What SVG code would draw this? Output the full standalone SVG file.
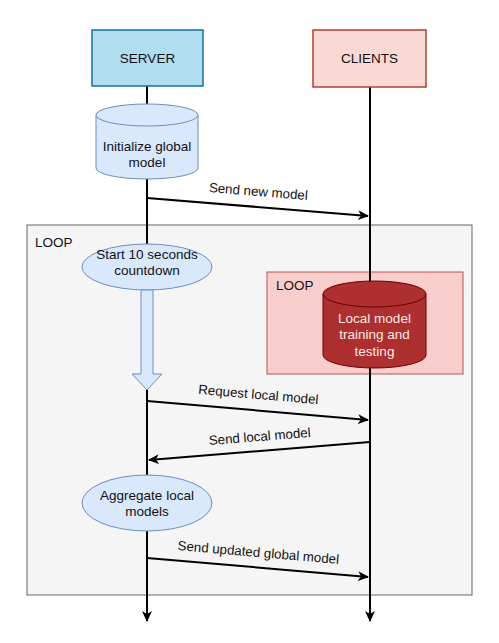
<svg xmlns="http://www.w3.org/2000/svg" width="499" height="643" viewBox="0 0 499 643">
<style>
text{font-family:"Liberation Sans",Arial,sans-serif;font-size:13.5px;fill:#111;text-anchor:middle}
.lbl{font-size:13.3px}
.ll{stroke:#000;stroke-width:2;fill:none}
.msg{stroke:#000;stroke-width:2;fill:none;marker-end:url(#ah)}
.blue{fill:#dae8fc;stroke:#6c8ebf;stroke-width:1}
</style>
<defs>
<marker id="ah" markerWidth="12" markerHeight="10" refX="10" refY="5" orient="auto" markerUnits="userSpaceOnUse">
<path d="M0,0 L11,5 L0,10 L3,5 Z" fill="#000"/>
</marker>
</defs>
<rect width="499" height="643" fill="#fff"/>
<g id="outer-loop">
<rect x="27" y="225" width="445" height="370" fill="#f5f5f5" stroke="#666" stroke-width="1"/>
<text x="35" y="247" style="text-anchor:start">LOOP</text>
</g>
<g id="inner-loop">
<rect x="267" y="272" width="196" height="102" fill="#f8cecc" stroke="#b85450" stroke-width="1"/>
<text x="276" y="290" style="text-anchor:start">LOOP</text>
</g>
<g id="connectors">
<line class="ll" x1="147" y1="86" x2="147" y2="621" marker-end="url(#ah)"/>
<line class="ll" x1="370" y1="87" x2="370" y2="621" marker-end="url(#ah)"/>
<line class="msg" x1="147" y1="198" x2="368" y2="216"/>
<line class="msg" x1="147" y1="401" x2="368" y2="420"/>
<line class="msg" x1="370" y1="442" x2="149" y2="460"/>
<line class="msg" x1="147" y1="558" x2="368" y2="577"/>
<text class="lbl" transform="translate(258,196) rotate(4.6)">Send new model</text>
<text class="lbl" transform="translate(258,399) rotate(4.9)">Request local model</text>
<text class="lbl" transform="translate(260,441) rotate(-4.6)">Send local model</text>
<text class="lbl" transform="translate(258,557) rotate(4.9)">Send updated global model</text>
</g>
<g id="server">
<rect x="92" y="30" width="111" height="56" fill="#b1ddf0" stroke="#10739e" stroke-width="1.5"/>
<text x="147.5" y="63">SERVER</text>
</g>
<g id="clients">
<rect x="313" y="30" width="113" height="57" fill="#fad9d5" stroke="#ae4132" stroke-width="1.5"/>
<text x="369.5" y="63">CLIENTS</text>
</g>
<g id="init-global">
<path class="blue" d="M96,115 A51,11 0 0 1 198,115 V168 A51,11 0 0 1 96,168 Z"/>
<path class="blue" d="M96,115 A51,11 0 0 0 198,115"/>
<text x="147" y="151">Initialize global</text>
<text x="147" y="167">model</text>
</g>
<g id="countdown">
<ellipse class="blue" cx="147" cy="267" rx="65" ry="23"/>
<text x="147" y="259">Start 10 seconds</text>
<text x="147" y="275">countdown</text>
</g>
<g id="wait-arrow">
<path class="blue" d="M141,290 H153 V374 H162 L147,390 L132,374 H141 Z"/>
</g>
<g id="local-training">
<path d="M323,294 A51.5,13 0 0 1 426,294 V355 A51.5,13 0 0 1 323,355 Z" fill="#ad2f2f" stroke="#6f0000" stroke-width="1"/>
<path d="M323,294 A51.5,13 0 0 0 426,294" fill="none" stroke="#6f0000" stroke-width="1"/>
<text x="374.5" y="323" style="fill:#fde9e9">Local model</text>
<text x="374.5" y="339" style="fill:#fde9e9">training and</text>
<text x="374.5" y="356" style="fill:#fde9e9">testing</text>
</g>
<g id="aggregate">
<ellipse class="blue" cx="147" cy="503" rx="65" ry="28"/>
<text x="147" y="500">Aggregate local</text>
<text x="147" y="516">models</text>
</g>
</svg>
